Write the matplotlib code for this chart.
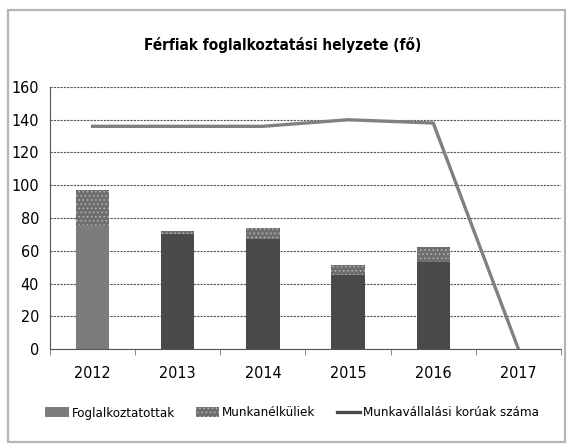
import matplotlib
matplotlib.use("Agg")
import matplotlib.pyplot as plt
from matplotlib.patches import Rectangle, Patch
from matplotlib.lines import Line2D
import numpy as np

plt.rcParams['font.family'] = ['DejaVu Sans']
plt.rcParams['font.stretch'] = 'condensed'
plt.rcParams['hatch.linewidth'] = 0.6

years = ['2012', '2013', '2014', '2015', '2016', '2017']
employed = [76, 70, 67, 45, 53, 0]
unemployed = [21, 2, 7, 6, 9, 0]
working_age = [136, 136, 136, 140, 138, 0]
y_ticks = [0, 20, 40, 60, 80, 100, 120, 140, 160]

title = 'Férfiak foglalkoztatási helyzete (fő)'
label_emp = 'Foglalkoztatottak'
label_unemp = 'Munkanélküliek'
label_line = 'Munkavállalási korúak száma'

W, H = 570, 446
fig = plt.figure(figsize=(W / 100, H / 100), dpi=100)
fig.patch.set_facecolor('white')

# chart frame
fig.patches.append(Rectangle((8 / W, 4 / H), 557 / W, 432 / H, transform=fig.transFigure,
                             fill=False, edgecolor='#b5b5b5', linewidth=1.6))

ax = fig.add_axes([50 / W, 1 - 349 / H, 511 / W, 262 / H])
x = np.arange(len(years))
emp_colors = ['#7c7c7c'] + ['#4a4a4a'] * (len(years) - 1)

ax.bar(x, employed, width=0.39, color=emp_colors, edgecolor='none', zorder=2)
ax.bar(x, unemployed, width=0.39, bottom=employed, color='#6e6e6e', hatch='....',
       edgecolor='#b8b8b8', linewidth=0, zorder=2)
ax.plot(x, working_age, color='#808080', linewidth=2.4, zorder=3)

ax.set_xlim(-0.5, len(years) - 0.5)
ax.set_ylim(0, 160)
ax.set_yticks(y_ticks)
ax.set_yticklabels([str(v) for v in y_ticks], fontsize=11.5)
ax.yaxis.grid(True, linestyle=(0, (2, 1)), color='#555555', linewidth=0.8, zorder=0)
ax.tick_params(axis='y', length=0, pad=8)

ax.set_xticks(x)
ax.set_xticklabels(years, fontsize=11.5)
ax.set_xticks(np.arange(len(years) + 1) - 0.5, minor=True)
ax.tick_params(axis='x', which='major', length=0, pad=12)
ax.tick_params(axis='x', which='minor', length=4, color='#777777', direction='out')

for side in ['top', 'right']:
    ax.spines[side].set_visible(False)
for side in ['left', 'bottom']:
    ax.spines[side].set_linestyle((0, (2, 1)))
    ax.spines[side].set_color('#555555')
    ax.spines[side].set_linewidth(0.8)

fig.text(283 / W, 1 - 45 / H, title, ha='center', va='center', fontsize=11, fontweight='bold')

handles = [Patch(facecolor='#7c7c7c', edgecolor='none'),
           Patch(facecolor='#6e6e6e', hatch='....', edgecolor='#b8b8b8', linewidth=0),
           Line2D([0], [0], color='#4a4a4a', linewidth=2.4)]
fig.legend(handles, [label_emp, label_unemp, label_line], loc='center',
           bbox_to_anchor=(292 / W, 1 - 413 / H), ncol=3, frameon=False, fontsize=9.5,
           handlelength=1.8, handletextpad=0.2, columnspacing=1.6, handleheight=0.8)

fig.savefig('out.png', dpi=100)
